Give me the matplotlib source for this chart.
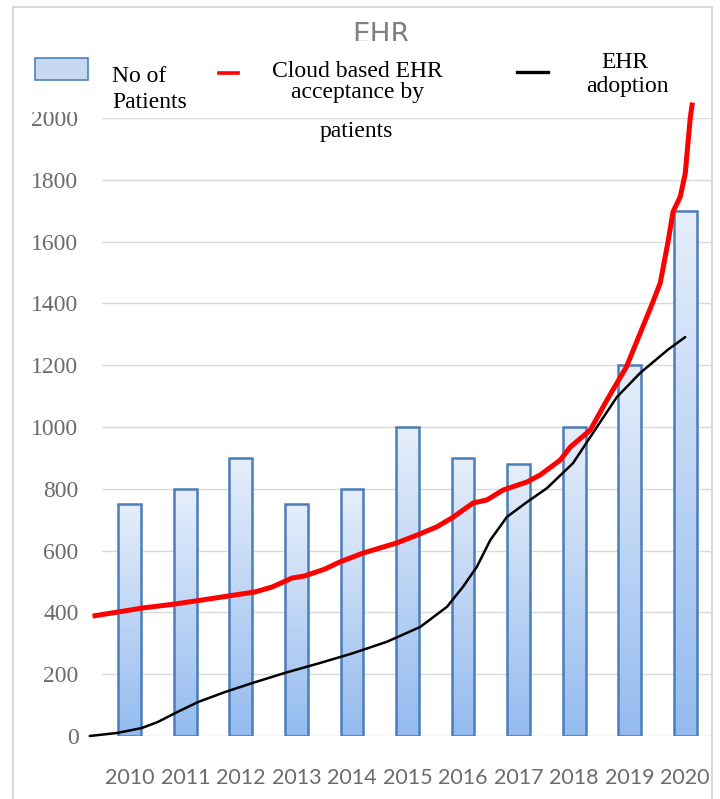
import numpy as np
import matplotlib

matplotlib.use('Agg')
import matplotlib.pyplot as plt
from matplotlib.patches import Rectangle
from matplotlib.lines import Line2D

years = [2010, 2011, 2012, 2013, 2014, 2015, 2016, 2017, 2018, 2019, 2020]
patients = [750, 800, 900, 750, 800, 1000, 900, 880, 1000, 1200, 1700]

# line positions are category positions (0 = 2010)
cloud_x = [-0.67, -0.22, 0.22, 0.81, 1.30, 1.77, 2.25, 2.56, 2.92, 3.15, 3.51, 3.78,
           4.20, 4.81, 5.17, 5.53, 5.82, 6.18, 6.43, 6.72, 7.15, 7.39, 7.75, 7.93,
           8.29, 8.59, 8.94, 9.19, 9.41, 9.55, 9.69, 9.78, 9.91, 10.0, 10.09, 10.13]
cloud_y = [388, 401, 414, 427, 440, 453, 466, 482, 511, 518, 540, 563,
           592, 625, 650, 677, 708, 754, 764, 796, 822, 845, 893, 935,
           990, 1087, 1194, 1304, 1401, 1466, 1599, 1696, 1745, 1820, 2000, 2050]

adoption_x = [-0.72, -0.22, 0.22, 0.50, 0.86, 1.23, 1.71, 2.20, 2.79, 3.42, 4.02,
              4.63, 5.23, 5.71, 6.0, 6.25, 6.49, 6.79, 7.15, 7.51, 7.98, 8.41,
              8.77, 9.19, 9.68, 10.0]
adoption_y = [0, 10, 26, 45, 78, 110, 142, 171, 204, 236, 268,
              305, 353, 418, 483, 548, 634, 709, 757, 802, 883, 1000,
              1097, 1175, 1249, 1291]

title = "EHR"
legend_labels = ["No of\nPatients", "Cloud based EHR\nacceptance by\npatients", "EHR\nadoption"]

W, H = 720, 799
fig = plt.figure(figsize=(7.2, 7.99), dpi=100)


def fx(px):
    return px / W


def fy(py):
    return 1 - py / H


# outer frame
fig.patches.append(Rectangle((fx(13), fy(830)), fx(699), 823 / H, transform=fig.transFigure,
                             fill=False, ec='#d9d9d9', lw=1.5, zorder=0))

ax = fig.add_axes([fx(102), fy(736), fx(611), 618 / H])
for s in ax.spines.values():
    s.set_visible(False)

x = np.arange(len(years))
bars = ax.bar(x, patients, width=0.41, facecolor='none', edgecolor='#4a7ebb', lw=1.8, zorder=3)

# vertical gradient inside every bar
grad = np.linspace(0, 1, 256).reshape(-1, 1)
cmap = matplotlib.colors.LinearSegmentedColormap.from_list('g', ['#e6eefa', '#94bbef'])
for b in bars:
    x0 = b.get_x()
    im = ax.imshow(grad, extent=[x0, x0 + b.get_width(), 0, b.get_height()], origin='upper',
                   cmap=cmap, aspect='auto', zorder=2)
    im.set_clip_path(b)

ax.plot(adoption_x, adoption_y, color='black', lw=1.8, clip_on=False, zorder=4,
        solid_capstyle='round', solid_joinstyle='round')
ax.plot(cloud_x, cloud_y, color='#ff0000', lw=3.6, clip_on=False, zorder=5,
        solid_capstyle='butt', solid_joinstyle='round')

ax.set_xlim(-0.5, 10.5)
ax.set_ylim(0, 2000)
yt = list(range(0, 2001, 200))
ax.set_yticks(yt)
ax.set_yticklabels([str(v) for v in yt], fontfamily='Liberation Serif', fontsize=17,
                   color='#6b6b6b')
ax.set_xticks(x)
ax.set_xticklabels([str(y) for y in years], fontfamily='Lato', fontsize=15.5, color='#6b6b6b')
ax.tick_params(axis='x', length=0, pad=23)
ax.tick_params(axis='y', length=0, pad=17)
ax.grid(axis='y', color='#d9d9d9', lw=1)
ax.set_axisbelow(True)

# title, partly hidden behind the legend box
fig.text(fx(381), fy(21), title, ha='center', va='top', fontsize=20, color='#808080',
         fontfamily='DejaVu Sans', zorder=3)
fig.patches.append(Rectangle((fx(20), fy(112)), fx(655), 71 / H, transform=fig.transFigure,
                             fc='white', ec='none', zorder=4))

# legend
serif = dict(fontfamily='Liberation Serif', fontsize=17, color='black', zorder=6)
fig.patches.append(Rectangle((fx(35), fy(80)), fx(53), 22 / H, transform=fig.transFigure,
                             fc='#c6d9f1', ec='#4f81bd', lw=1.2, zorder=6))
lab = legend_labels[0].split('\n')
fig.text(fx(112), fy(82), lab[0], ha='left', va='baseline', **serif)
fig.text(fx(112), fy(108), lab[1], ha='left', va='baseline', **serif)

fig.lines.append(Line2D([fx(219), fx(238)], [fy(73), fy(73)], transform=fig.transFigure,
                        color='#ff0000', lw=2.6, zorder=6))
lab = legend_labels[1].split('\n')
fig.text(fx(357), fy(77), lab[0], ha='center', va='baseline', **serif)
fig.text(fx(358), fy(98), lab[1], ha='center', va='baseline', **serif)
fig.text(fx(356), fy(137), lab[2], ha='center', va='baseline', **serif)

fig.lines.append(Line2D([fx(517), fx(548)], [fy(72), fy(72)], transform=fig.transFigure,
                        color='black', lw=2.4, zorder=6))
lab = legend_labels[2].split('\n')
fig.text(fx(625), fy(68), lab[0], ha='center', va='baseline', **serif)
fig.text(fx(627), fy(92), lab[1], ha='center', va='baseline', **serif)

fig.savefig('out.png', dpi=100)
